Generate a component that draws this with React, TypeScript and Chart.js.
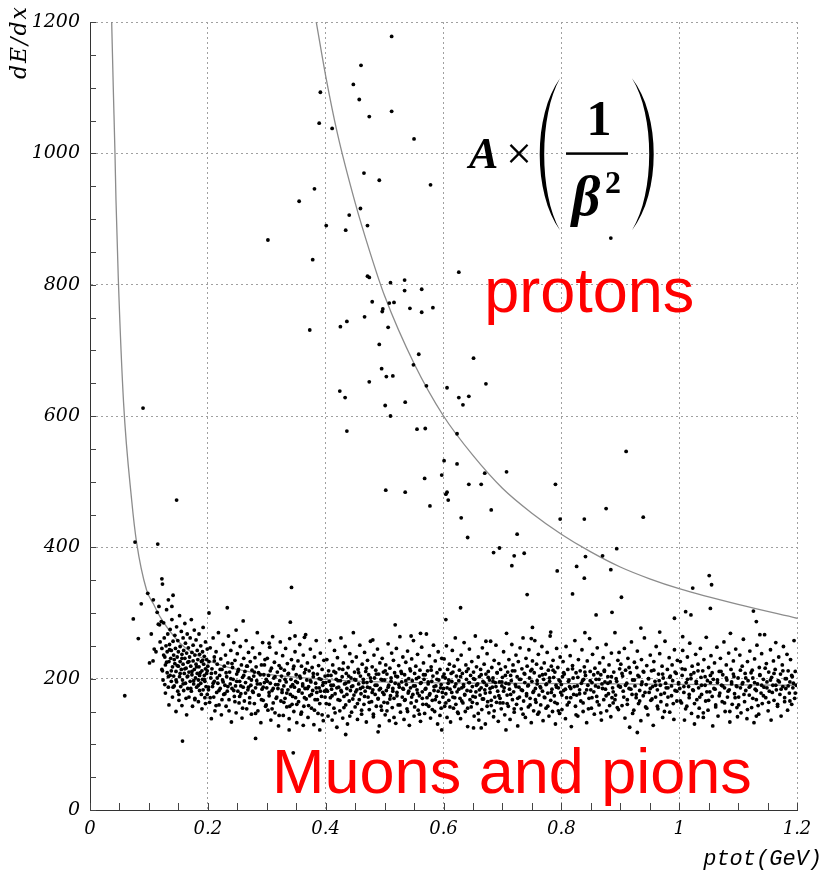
import React, { useEffect, useRef } from "react";
import { Chart, registerables } from "chart.js";

Chart.register(...registerables);

// ---------- axes ----------
const X_MIN = 0;
const X_MAX = 1.2;
const Y_MIN = 0;
const Y_MAX = 1200;
const xTickValues = [0, 0.2, 0.4, 0.6, 0.8, 1, 1.2];
const xTickLabels = ["0", "0.2", "0.4", "0.6", "0.8", "1", "1.2"];
const yTickValues = [0, 200, 400, 600, 800, 1000, 1200];
const yTickLabels = ["0", "200", "400", "600", "800", "1000", "1200"];
const xMinorStep = 0.05;
const yMinorStep = 50;
const xTitle = "ptot(GeV)";
const yTitle = "dE/dx";

// ---------- fitted curves ----------
const muonCurve = [
  [0.0368, 1200], [0.0395, 1100], [0.0424, 1000], [0.0441, 929], [0.048, 810], [0.057, 620],
  [0.0707, 472], [0.079, 408], [0.096, 335], [0.1075, 314], [0.119, 294], [0.153, 254],
  [0.187, 233], [0.232, 218], [0.289, 208], [0.379, 200], [0.492, 195], [0.7, 193],
  [0.9, 192], [1.2, 190],
];
const protonCurve = [
  [0.384, 1200], [0.4, 1118], [0.42, 1030], [0.45, 925], [0.475, 850], [0.5, 783],
  [0.55, 680], [0.6, 600], [0.65, 540], [0.7, 490], [0.75, 452], [0.8, 420],
  [0.85, 393], [0.9, 370], [0.95, 352], [1.0, 337], [1.1, 313], [1.2, 292],
];

// ---------- proton band (sparse points) ----------
const protons = [
  [0.302, 868], [0.512, 1178], [0.46, 1134], [0.447, 1105], [0.391, 1093], [0.457, 1082],
  [0.512, 1064], [0.474, 1056], [0.389, 1046], [0.411, 1038], [0.55, 1022], [0.465, 970],
  [0.491, 959], [0.578, 952], [0.381, 946], [0.355, 927], [0.459, 916], [0.44, 906],
  [0.401, 890], [0.471, 890], [0.434, 883], [0.884, 871], [0.378, 838], [0.626, 819],
  [0.471, 813], [0.474, 811], [0.51, 803], [0.534, 807], [0.534, 791], [0.563, 793],
  [0.479, 774], [0.508, 772], [0.516, 773], [0.497, 763], [0.496, 759], [0.543, 764],
  [0.563, 758], [0.582, 765], [0.466, 751], [0.436, 744], [0.425, 736], [0.373, 731],
  [0.506, 735], [0.491, 709], [0.558, 694], [0.651, 688], [0.549, 678], [0.495, 672],
  [0.503, 660], [0.514, 661], [0.474, 652], [0.672, 649], [0.571, 646], [0.606, 643],
  [0.424, 638], [0.643, 630], [0.433, 628], [0.626, 628], [0.535, 621], [0.633, 617],
  [0.501, 616], [0.51, 600], [0.555, 580], [0.569, 581], [0.436, 577], [0.623, 573],
  [0.91, 546], [0.601, 532], [0.623, 527], [0.707, 515], [0.67, 513], [0.597, 510],
  [0.568, 505], [0.79, 496], [0.643, 496], [0.664, 496], [0.502, 487], [0.535, 484],
  [0.606, 484], [0.604, 481], [0.608, 472], [0.577, 463], [0.681, 457], [0.876, 459],
  [0.939, 446], [0.63, 445], [0.798, 443], [0.839, 443], [0.641, 415], [0.725, 420],
  [0.685, 392], [0.695, 399], [0.72, 387], [0.737, 391], [0.716, 372], [0.793, 364],
  [0.841, 386], [0.826, 371], [0.839, 353], [0.87, 387], [0.894, 398], [0.884, 366],
  [0.742, 328], [0.819, 329], [0.902, 324], [0.629, 308], [0.859, 297], [0.886, 301],
  [1.051, 357], [1.055, 343], [1.023, 338], [1.053, 307], [1.011, 302], [1.02, 297],
  [0.992, 292], [1.126, 303], [1.131, 287], [0.604, 290], [0.935, 277],
];

// ---------- isolated points around the muon/pion band ----------
const outliers = [
  [0.059, 174], [0.0735, 291], [0.0764, 408], [0.082, 261], [0.087, 314], [0.09, 612],
  [0.098, 330], [0.1075, 320], [0.115, 405], [0.117, 310], [0.122, 352], [0.123, 344],
  [0.133, 320], [0.139, 310], [0.141, 327], [0.147, 472], [0.157, 105], [0.202, 300],
  [0.233, 308], [0.248, 274], [0.26, 288], [0.281, 109], [0.304, 254], [0.338, 122],
  [0.34, 286], [0.342, 339], [0.345, 87], [0.348, 265], [0.362, 129], [0.364, 263],
  [0.39, 122], [0.434, 115], [0.48, 259], [0.489, 119], [0.518, 282], [0.545, 265],
  [0.561, 269], [0.597, 122], [0.651, 125], [0.664, 125], [0.672, 257], [0.706, 122],
  [0.749, 261], [0.751, 278], [0.782, 271], [0.84, 270], [0.929, 118], [0.967, 271],
  [1.006, 264], [1.032, 142], [1.087, 269], [1.099, 142], [1.131, 143], [1.137, 267],
];

// ---------- muon / pion band: flat pairs, x in thousandths of GeV, y in dE/dx ----------
const bandA = [
  101,224, 104,268, 107,227, 109,245, 112,241, 114,301, 116,283, 118,282, 119,256, 121,287,
  122,246, 123,212, 124,198, 125,285, 126,262, 127,233, 128,221, 128,178, 129,250, 130,305,
  131,209, 131,241, 132,268, 133,187, 134,226, 134,160, 135,252, 136,275, 136,205, 137,231,
  138,196, 138,243, 139,290, 140,218, 140,172, 141,257, 142,236, 142,204, 143,189, 144,266,
  144,223, 145,246, 146,150, 146,211, 147,279, 147,195, 148,233, 149,258, 149,181, 150,219,
  150,241, 151,167, 152,296, 152,203, 153,226, 153,249, 154,188, 155,272, 155,214, 156,237,
  156,159, 157,198, 158,262, 158,222, 159,243, 159,182, 160,208, 161,284, 161,231, 162,193,
  162,254, 163,216, 164,145, 164,239, 165,203, 165,268, 166,185, 166,225, 167,247, 168,210,
  168,172, 169,233, 170,262, 170,196, 171,219, 172,290, 172,181, 173,240, 173,206, 174,158,
  175,227, 175,251, 176,192, 177,214, 177,274, 178,236, 178,170, 179,201, 180,222, 180,259,
  181,187, 182,243, 182,208, 183,229, 184,165, 184,198, 185,268, 185,218, 186,237, 186,182,
  187,209, 188,250, 188,193, 189,226, 190,154, 190,212, 191,241, 191,199, 192,278, 192,183,
  193,222, 194,205, 194,234, 195,171, 195,196, 196,256, 196,215, 197,188, 198,229, 198,208,
  199,245, 199,176, 200,219,
];
const bandB = [
  201,183, 202,226, 203,164, 204,247, 205,201, 206,139, 207,215, 208,188, 209,262, 210,172,
  211,233, 211,196, 212,151, 213,209, 214,241, 215,179, 216,222, 217,193, 218,270, 219,160,
  220,205, 221,185, 222,230, 223,145, 224,214, 225,198, 226,252, 227,176, 228,219, 229,190,
  230,236, 231,158, 232,203, 233,181, 234,224, 235,265, 236,168, 237,210, 238,192, 239,243,
  240,134, 241,185, 242,217, 243,199, 244,255, 245,173, 246,228, 247,189, 248,148, 249,207,
  250,238, 251,181, 252,214, 253,163, 254,196, 255,249, 256,177, 257,221, 258,140, 259,202,
  260,187, 261,231, 262,166, 263,211, 264,194, 265,258, 266,154, 267,219, 268,183, 269,240,
  270,201, 271,171, 272,226, 273,190, 274,146, 275,213, 276,247, 277,179, 278,204, 279,162,
  280,232, 281,186, 282,218, 283,197, 284,270, 285,151, 286,209, 287,175, 288,238, 289,192,
  290,133, 291,221, 292,184, 293,255, 294,167, 295,206, 296,194, 297,229, 298,158, 299,199,
  300,186, 301,231, 302,152, 303,205, 304,174, 305,248, 306,193, 307,137, 308,216, 309,182,
  310,264, 311,163, 312,201, 313,225, 314,148, 315,191, 316,239, 317,172, 318,210, 319,185,
  320,128, 321,220, 322,197, 323,256, 324,166, 325,204, 326,179, 327,235, 328,144, 329,189,
  330,213, 331,170, 332,246, 333,195, 334,157, 335,223, 336,183, 337,208, 338,139, 339,261,
  340,176, 341,199, 342,229, 343,161, 344,191, 345,215, 346,150, 347,187, 348,241, 349,171,
  350,206, 351,133, 352,194, 353,227, 354,165, 355,183, 356,252, 357,201, 358,146, 359,219,
  360,178, 361,192, 362,236, 363,158, 364,209, 365,185, 366,267, 367,169, 368,198, 369,224,
  370,141, 371,188, 372,212, 373,174, 374,245, 375,195, 376,155, 377,217, 378,182, 379,203,
  380,130, 381,233, 382,168, 383,193, 384,258, 385,179, 386,207, 387,147, 388,220, 389,186,
  390,162, 391,239, 392,199, 393,173, 394,214, 395,190, 396,136, 397,228, 398,181, 399,204,
];
const bandC = [
  400,194, 401,162, 402,229, 403,181, 404,143, 405,212, 406,196, 407,258, 408,171, 409,205,
  410,184, 411,137, 412,221, 413,190, 414,155, 415,243, 416,177, 417,209, 418,199, 419,126,
  420,232, 421,168, 422,187, 423,215, 424,151, 425,197, 426,262, 427,180, 428,203, 429,140,
  430,224, 431,173, 432,192, 433,249, 434,160, 435,208, 436,185, 437,131, 438,217, 439,195,
  440,166, 441,238, 442,182, 443,201, 444,149, 445,226, 446,189, 447,270, 448,175, 449,210,
  450,157, 451,198, 452,233, 453,183, 454,138, 455,214, 456,192, 457,168, 458,251, 459,204,
  460,177, 461,146, 462,222, 463,187, 464,199, 465,161, 466,240, 467,181, 468,211, 469,134,
  470,194, 471,228, 472,172, 473,206, 474,153, 475,186, 476,257, 477,196, 478,165, 479,218,
  480,183, 481,142, 482,236, 483,201, 484,176, 485,213, 486,158, 487,190, 488,245, 489,169,
  490,207, 491,128, 492,224, 493,185, 494,199, 495,152, 496,231, 497,179, 498,210, 499,164,
  500,198, 501,145, 502,221, 503,182, 504,207, 505,163, 506,253, 507,190, 508,136, 509,216,
  510,174, 511,201, 512,239, 513,156, 514,185, 515,228, 516,170, 517,209, 518,193, 519,132,
  520,246, 521,179, 522,203, 523,160, 524,220, 525,187, 526,264, 527,149, 528,211, 529,195,
  530,172, 531,233, 532,184, 533,138, 534,206, 535,168, 536,225, 537,191, 538,154, 539,242,
  540,178, 541,200, 542,129, 543,215, 544,186, 545,163, 546,230, 547,197, 548,176, 549,258,
  550,143, 551,208, 552,189, 553,219, 554,166, 555,183, 556,237, 557,152, 558,202, 559,174,
  560,213, 561,135, 562,194, 563,248, 564,180, 565,161, 566,224, 567,199, 568,147, 569,206,
  570,185, 571,268, 572,171, 573,212, 574,192, 575,158, 576,235, 577,177, 578,140, 579,218,
  580,196, 581,167, 582,204, 583,251, 584,182, 585,150, 586,227, 587,189, 588,173, 589,209,
  590,131, 591,241, 592,198, 593,164, 594,214, 595,186, 596,155, 597,231, 598,179, 599,203,
];
const bandD = [
  600,185, 601,230, 602,158, 603,201, 604,177, 605,250, 606,141, 607,214, 608,193, 609,167,
  610,222, 611,184, 612,134, 613,208, 614,196, 615,243, 616,172, 617,155, 618,219, 619,188,
  620,262, 621,161, 622,204, 623,180, 624,229, 625,147, 626,197, 627,213, 628,170, 629,139,
  630,236, 631,186, 632,208, 633,163, 634,191, 635,255, 636,176, 637,150, 638,221, 639,199,
  640,182, 641,127, 642,215, 643,194, 644,245, 645,168, 646,205, 647,157, 648,226, 649,188,
  650,173, 651,210, 652,143, 653,199, 654,265, 655,180, 656,218, 657,162, 658,192, 659,233,
  660,137, 661,203, 662,175, 663,214, 664,186, 665,153, 666,247, 667,196, 668,169, 669,222,
  670,183, 671,131, 672,207, 673,190, 674,238, 675,165, 676,211, 677,148, 678,198, 679,179,
  680,257, 681,159, 682,217, 683,187, 684,201, 685,142, 686,228, 687,172, 688,194, 689,251,
  690,164, 691,209, 692,181, 693,135, 694,223, 695,195, 696,170, 697,214, 698,154, 699,189,
  700,202, 701,163, 702,241, 703,186, 704,145, 705,218, 706,193, 707,269, 708,175, 709,210,
  710,158, 711,229, 712,184, 713,138, 714,205, 715,197, 716,252, 717,168, 718,221, 719,180,
  720,149, 721,212, 722,191, 723,236, 724,161, 725,203, 726,128, 727,226, 728,187, 729,172,
  730,247, 731,199, 732,154, 733,215, 734,182, 735,262, 736,166, 737,208, 738,194, 739,141,
  740,231, 741,177, 742,219, 743,189, 744,157, 745,244, 746,201, 747,170, 748,212, 749,133,
  750,196, 751,227, 752,179, 753,151, 754,209, 755,258, 756,185, 757,164, 758,222, 759,192,
  760,146, 761,237, 762,175, 763,204, 764,188, 765,160, 766,216, 767,249, 768,181, 769,136,
  770,199, 771,224, 772,171, 773,207, 774,155, 775,192, 776,240, 777,178, 778,213, 779,143,
  780,196, 781,265, 782,167, 783,219, 784,184, 785,150, 786,228, 787,202, 788,174, 789,210,
  790,131, 791,190, 792,246, 793,162, 794,217, 795,186, 796,198, 797,147, 798,233, 799,179,
];
const bandE = [
  800,191, 801,153, 802,203, 803,226, 804,182, 805,207, 807,139, 808,249, 809,171, 811,214,
  812,196, 813,164, 814,188, 815,235, 816,185, 817,127, 819,220, 820,201, 821,176, 823,258,
  824,158, 825,209, 826,175, 827,189, 828,143, 829,229, 831,183, 832,212, 833,166, 835,244,
  836,197, 837,150, 838,199, 839,218, 840,178, 841,205, 843,133, 844,227, 845,190, 847,170,
  848,261, 849,211, 850,183, 851,155, 852,194, 853,237, 855,180, 856,146, 857,216, 859,199,
  860,173, 861,247, 862,209, 863,187, 864,160, 865,224, 867,206, 868,137, 869,192, 871,232,
  872,168, 873,213, 874,195, 875,184, 876,252, 877,151, 879,203, 880,177, 881,221, 883,195,
  884,142, 885,239, 886,171, 887,186, 888,163, 889,210, 891,270, 892,175, 893,200, 895,156,
  896,228, 897,189, 898,240, 899,215,
  900,187, 901,222, 903,159, 904,204, 905,181, 907,246, 908,140, 909,213, 911,193, 912,168,
  913,231, 915,185, 916,126, 917,209, 919,256, 920,176, 921,198, 923,152, 924,225, 925,189,
  927,171, 928,217, 929,242, 931,162, 932,203, 933,182, 935,136, 936,229, 937,195, 939,174,
  940,210, 941,262, 943,157, 944,191, 945,220, 947,145, 948,200, 949,179, 951,236, 952,167,
  953,212, 955,188, 956,129, 957,226, 959,196, 960,172, 961,249, 963,183, 964,154, 965,207,
  967,238, 968,190, 969,165, 971,219, 972,141, 973,201, 975,178, 976,257, 977,193, 979,160,
  980,214, 981,186, 983,232, 984,149, 985,204, 987,174, 988,221, 989,197, 991,138, 992,244,
  993,182, 995,208, 996,166, 997,228, 999,192,
];
const bandF = [
  1001,185, 1002,226, 1004,163, 1005,205, 1006,243, 1008,179, 1009,137, 1010,214, 1012,194, 1013,158,
  1014,233, 1016,188, 1017,171, 1018,254, 1020,200, 1021,147, 1022,219, 1024,182, 1025,209, 1026,131,
  1028,237, 1029,193, 1030,168, 1032,222, 1033,186, 1034,155, 1036,246, 1037,202, 1038,176, 1040,212,
  1041,141, 1042,229, 1044,190, 1045,166, 1046,263, 1048,197, 1049,152, 1050,217, 1052,180, 1053,205,
  1054,235, 1056,173, 1057,128, 1058,199, 1060,224, 1061,184, 1062,160, 1064,248, 1065,194, 1066,143,
  1068,211, 1069,178, 1070,231, 1072,190, 1073,165, 1074,206, 1076,256, 1077,186, 1078,150, 1080,221,
  1081,198, 1082,172, 1084,239, 1085,183, 1086,134, 1088,214, 1089,192, 1090,161, 1092,227, 1093,203,
  1094,177, 1096,245, 1097,189, 1098,156,
  1100,201, 1101,172, 1103,236, 1104,186, 1105,148, 1107,219, 1108,194, 1109,260, 1111,165, 1112,208,
  1113,182, 1115,139, 1116,226, 1117,197, 1119,175, 1120,242, 1121,189, 1123,156, 1124,213, 1125,201,
  1127,133, 1128,230, 1129,184, 1131,168, 1132,251, 1133,192, 1135,146, 1136,217, 1137,206, 1139,178,
  1140,238, 1141,162, 1143,199, 1144,187, 1145,267, 1147,171, 1148,223, 1149,195, 1151,151, 1152,210,
  1153,181, 1155,244, 1156,137, 1157,202, 1159,190, 1160,227, 1161,167, 1163,214, 1164,255, 1165,183,
  1167,158, 1168,197, 1169,233, 1171,176, 1172,207, 1173,143, 1175,221, 1176,188, 1177,249, 1179,165,
  1180,200, 1181,185, 1183,237, 1184,152, 1185,212, 1187,178, 1188,195, 1189,229, 1191,161, 1192,203,
  1193,186, 1195,258, 1196,170, 1197,211, 1199,190,
];
// dense core of the band (same encoding)
const coreA = [
  122,214, 125,236, 127,191, 130,225, 133,203, 135,244, 138,212, 141,187, 143,229, 146,198,
  148,220, 151,176, 153,208, 156,231, 158,192, 161,215, 163,170, 166,204, 168,226, 171,185,
  173,211, 176,197, 178,168, 181,218, 184,190, 186,205, 189,176, 191,228, 194,199, 196,162,
  199,212, 201,187, 204,171, 206,208, 209,193, 211,227, 214,159, 216,201, 219,182, 221,214,
  224,168, 226,195, 229,177, 231,209, 234,188, 236,151, 239,200, 241,223, 244,182, 246,165,
  249,196, 251,211, 254,173, 256,189, 259,155, 261,205, 264,178, 266,219, 269,187, 271,163,
  274,198, 276,181, 279,210, 281,147, 284,192, 286,175, 289,206, 291,168, 294,187, 296,221,
  299,160, 301,196, 304,179, 306,212, 309,154, 311,185, 314,203, 316,170, 319,191, 321,144,
  324,216, 326,183, 329,164, 331,199, 334,178, 336,207, 339,158, 341,188, 344,173, 346,219,
  349,196, 351,161, 354,181, 356,204, 359,149, 361,189, 364,171, 366,214, 369,185, 371,159,
  374,197, 376,176, 379,208, 381,152, 384,186, 386,168, 389,200, 391,181, 394,145, 396,194,
  399,172,
];
const coreB = [
  401,183, 404,205, 406,161, 409,190, 411,174, 414,211, 416,148, 419,186, 421,197, 424,167,
  426,182, 429,214, 431,156, 434,193, 436,176, 439,204, 441,143, 444,188, 446,169, 449,199,
  451,180, 454,162, 456,209, 459,185, 461,152, 464,194, 466,173, 469,216, 471,187, 474,164,
  476,201, 479,179, 481,146, 484,190, 486,207, 489,170, 491,183, 494,158, 496,198, 499,176,
  501,212, 504,151, 506,187, 509,169, 511,196, 514,181, 516,141, 519,204, 521,174, 524,191,
  526,160, 529,208, 531,185, 534,167, 536,197, 539,150, 541,181, 544,212, 546,172, 549,189,
  551,157, 554,200, 556,178, 559,146, 561,193, 564,170, 566,206, 569,184, 571,161, 574,195,
  576,175, 579,213, 581,153, 584,188, 586,168, 589,199, 591,181, 594,144, 596,191, 599,172,
  601,207, 604,163, 606,186, 609,198, 611,157, 614,179, 616,210, 619,171, 621,192, 624,149,
  626,184, 629,203, 631,166, 634,188, 636,175, 639,211, 641,155, 644,194, 646,181, 649,164,
  651,200, 654,172, 656,190, 659,147, 661,183, 664,206, 666,169, 669,194, 671,178, 674,158,
  676,202, 679,185, 681,167, 684,196, 686,151, 689,188, 691,209, 694,174, 696,163, 699,195,
];
const coreC = [
  702,181, 705,205, 708,162, 711,192, 714,176, 717,212, 720,154, 723,188, 726,170, 729,199,
  732,183, 735,146, 738,207, 741,174, 744,190, 747,160, 750,214, 753,181, 756,168, 759,197,
  762,149, 765,186, 768,206, 771,172, 774,191, 777,158, 780,201, 783,179, 786,213, 789,164,
  792,187, 795,151, 798,196, 801,175, 804,209, 807,184, 810,160, 813,198, 816,171, 819,215,
  822,188, 825,145, 828,202, 831,177, 834,193, 837,163, 840,210, 843,183, 846,154, 849,197,
  852,171, 855,206, 858,189, 861,165, 864,199, 867,148, 870,185, 873,211, 876,174, 879,193,
  882,159, 885,203, 888,180, 891,168, 894,196, 897,153, 900,188, 903,208, 906,172, 909,190,
  912,161, 915,217, 918,184, 921,147, 924,198, 927,176, 930,205, 933,166, 936,191, 939,211,
  942,179, 945,155, 948,200, 951,185, 954,169, 957,213, 960,190, 963,158, 966,197, 969,176,
  972,207, 975,150, 978,186, 981,172, 984,202, 987,189, 990,162, 993,210, 996,181, 999,194,
  1002,166, 1005,215, 1008,188, 1011,154, 1014,199, 1017,176, 1020,206, 1023,183, 1026,162, 1029,196,
  1032,212, 1035,172, 1038,190, 1041,148, 1044,203, 1047,180, 1050,167, 1053,194, 1056,209, 1059,185,
  1062,157, 1065,198, 1068,174, 1071,211, 1074,189, 1077,163, 1080,201, 1083,181, 1086,150, 1089,195,
  1092,207, 1095,171, 1098,188, 1101,160, 1104,213, 1107,192, 1110,176, 1113,201, 1116,153, 1119,187,
  1122,209, 1125,170, 1128,194, 1131,182, 1134,159, 1137,205, 1140,190, 1143,174, 1146,216, 1149,186,
  1152,164, 1155,198, 1158,179, 1161,208, 1164,190, 1167,161, 1170,195, 1173,184, 1176,212, 1179,171,
  1182,200, 1185,189, 1188,166, 1191,205, 1194,193, 1197,178,
];

// ---------- annotation texts ----------
const protonLabel = "protons";
const muonLabel = "Muons and pions";

const pairsToPoints = (arr: number[][]) => arr.map(([x, y]) => ({ x, y }));
const milliToPoints = (flat: number[]) => {
  const out: { x: number; y: number }[] = [];
  for (let i = 0; i + 1 < flat.length; i += 2) out.push({ x: flat[i] / 1000, y: flat[i + 1] });
  return out;
};

const decorPlugin = {
  id: "decor",
  afterDraw(chart: any) {
    const { ctx, chartArea: a } = chart;
    const xs = chart.scales.x;
    const ys = chart.scales.y;
    ctx.save();

    // inward minor tick marks
    ctx.strokeStyle = "#444";
    ctx.lineWidth = 1;
    ctx.beginPath();
    const ny = Math.round((Y_MAX - Y_MIN) / yMinorStep);
    for (let i = 0; i <= ny; i++) {
      const py = Math.round(ys.getPixelForValue(Y_MIN + i * yMinorStep)) + 0.5;
      ctx.moveTo(a.left, py);
      ctx.lineTo(a.left + 6, py);
    }
    const nx = Math.round((X_MAX - X_MIN) / xMinorStep);
    for (let i = 0; i <= nx; i++) {
      const px = Math.round(xs.getPixelForValue(X_MIN + i * xMinorStep)) + 0.5;
      ctx.moveTo(px, a.bottom);
      ctx.lineTo(px, a.bottom - 7);
    }
    ctx.stroke();

    // axis titles
    ctx.fillStyle = "#000";
    ctx.save();
    ctx.translate(20, 5);
    ctx.rotate(-Math.PI / 2);
    ctx.font = 'italic 22px "DejaVu Serif"';
    (ctx as any).letterSpacing = "2px";
    ctx.textAlign = "right";
    ctx.textBaseline = "middle";
    ctx.fillText(yTitle, 0, 0);
    ctx.restore();

    ctx.font = 'italic 22px "Liberation Mono"';
    ctx.textAlign = "right";
    ctx.textBaseline = "alphabetic";
    ctx.fillText(xTitle, 822, 865);

    // formula  A x (1 / beta^2)
    const fx = xs.getPixelForValue(0.645);
    const fy = ys.getPixelForValue(1000);
    ctx.textAlign = "left";
    ctx.font = 'bold italic 44px "Liberation Serif"';
    ctx.fillText("A", fx - 1, fy + 15);
    ctx.font = '46px "Liberation Serif"';
    ctx.fillText("\u00D7", fx + 36, fy + 16);
    const paren = (x0: number, cOuter: number, cInner: number) => {
      ctx.beginPath();
      ctx.moveTo(x0, fy - 75);
      ctx.bezierCurveTo(cOuter, fy - 38, cOuter, fy + 40, x0, fy + 77);
      ctx.bezierCurveTo(cInner, fy + 40, cInner, fy - 38, x0, fy - 75);
      ctx.closePath();
      ctx.fill();
    };
    paren(fx + 90, fx + 63, fx + 69);
    paren(fx + 162, fx + 191, fx + 185);
    ctx.textAlign = "center";
    ctx.font = 'bold 50px "Liberation Serif"';
    ctx.fillText("1", fx + 129, fy - 18);
    ctx.fillRect(fx + 96, fy - 1, 62, 2.5);
    ctx.font = 'bold italic 56px "Liberation Serif"';
    ctx.fillText("\u03B2", fx + 116, fy + 62);
    ctx.textAlign = "left";
    ctx.font = 'bold 32px "Liberation Serif"';
    ctx.fillText("2", fx + 135, fy + 40);

    // red labels
    ctx.fillStyle = "#ff0000";
    ctx.font = '63px "Liberation Sans"';
    ctx.fillText(protonLabel, xs.getPixelForValue(0.669), ys.getPixelForValue(758));
    ctx.fillText(muonLabel, xs.getPixelForValue(0.309), ys.getPixelForValue(26));

    ctx.restore();
  },
};

export default function App() {
  const ref = useRef<HTMLCanvasElement | null>(null);

  useEffect(() => {
    if (!ref.current) return;
    const points = [
      ...pairsToPoints(protons),
      ...pairsToPoints(outliers),
      ...milliToPoints(bandA),
      ...milliToPoints(bandB),
      ...milliToPoints(bandC),
      ...milliToPoints(bandD),
      ...milliToPoints(bandE),
      ...milliToPoints(bandF),
      ...milliToPoints(coreA),
      ...milliToPoints(coreB),
      ...milliToPoints(coreC),
    ];
    const gridOpts = { color: "#a0a0a0", lineWidth: 1, drawTicks: false };
    const tickFontY = { family: "DejaVu Serif", style: "italic" as const, size: 19 };
    const tickFontX = { family: "DejaVu Serif", style: "italic" as const, size: 18 };

    const chart = new Chart(ref.current, {
      type: "scatter",
      data: {
        datasets: [
          {
            type: "line",
            data: pairsToPoints(muonCurve),
            borderColor: "#8c8c8c",
            borderWidth: 1.3,
            pointRadius: 0,
            fill: false,
            cubicInterpolationMode: "monotone",
            order: 2,
          } as any,
          {
            type: "line",
            data: pairsToPoints(protonCurve),
            borderColor: "#8c8c8c",
            borderWidth: 1.3,
            pointRadius: 0,
            fill: false,
            cubicInterpolationMode: "monotone",
            order: 2,
          } as any,
          {
            type: "scatter",
            data: points,
            backgroundColor: "#000",
            borderWidth: 0,
            pointRadius: 1.9,
            pointHoverRadius: 1.9,
            order: 1,
          } as any,
        ],
      },
      options: {
        animation: false,
        responsive: false,
        devicePixelRatio: 1,
        layout: { padding: { left: 0, right: 26, top: 22, bottom: 0 } },
        plugins: { legend: { display: false }, tooltip: { enabled: false } },
        events: [],
        scales: {
          x: {
            type: "linear",
            min: X_MIN,
            max: X_MAX,
            afterBuildTicks: (s: any) => {
              s.ticks = xTickValues.map((v) => ({ value: v }));
            },
            afterFit: (s: any) => {
              s.height = 60;
            },
            ticks: {
              autoSkip: false,
              maxRotation: 0,
              padding: 9,
              color: "#000",
              font: tickFontX,
              callback: (v: any) => {
                const i = xTickValues.findIndex((t) => Math.abs(t - Number(v)) < 1e-9);
                return i >= 0 ? xTickLabels[i] : "";
              },
            },
            grid: gridOpts,
            border: { display: true, color: "#333", width: 1, dash: [2, 3] },
          },
          y: {
            type: "linear",
            min: Y_MIN,
            max: Y_MAX,
            afterBuildTicks: (s: any) => {
              s.ticks = yTickValues.map((v) => ({ value: v }));
            },
            afterFit: (s: any) => {
              s.width = 90;
            },
            ticks: {
              autoSkip: false,
              padding: 10,
              color: "#000",
              font: tickFontY,
              callback: (v: any) => {
                const i = yTickValues.indexOf(Number(v));
                return i >= 0 ? yTickLabels[i] : "";
              },
            },
            grid: gridOpts,
            border: { display: true, color: "#333", width: 1, dash: [2, 3] },
          },
        },
      } as any,
      plugins: [decorPlugin],
    });
    return () => chart.destroy();
  }, []);

  return (
    <div style={{ position: "absolute", left: 0, top: 0, width: 823, height: 870, background: "#fff" }}>
      <canvas ref={ref} width={823} height={870} style={{ display: "block", width: 823, height: 870 }} />
    </div>
  );
}
